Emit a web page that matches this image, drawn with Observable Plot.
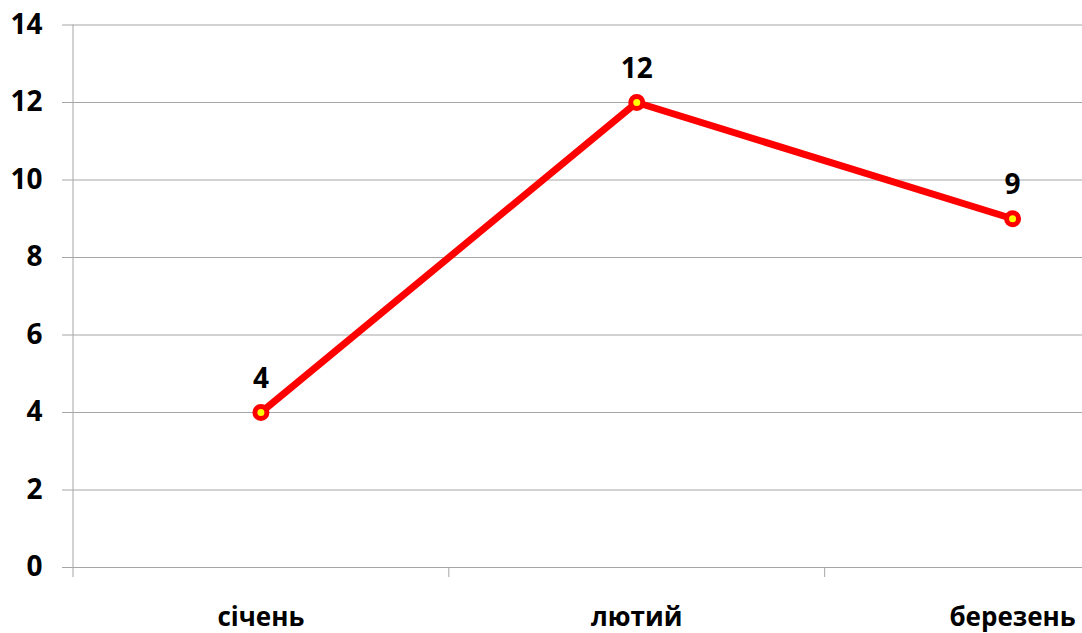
<!DOCTYPE html>
<html>
<head>
<meta charset="utf-8">
<script src="https://cdn.jsdelivr.net/npm/d3@7"></script>
<script src="https://cdn.jsdelivr.net/npm/@observablehq/plot@0.6"></script>
<style>
  html, body { margin: 0; padding: 0; background: #fff; overflow: hidden; }
</style>
</head>
<body>
<div id="chart"></div>
<script>
const months = ["січень", "лютий", "березень"];
const values = [4, 12, 9];
const yTicks = [0, 2, 4, 6, 8, 10, 12, 14];
const xBandEdges = [0, 1, 2, 3];

const data = months.map((m, i) => ({month: m, pos: i + 0.5, value: values[i]}));

const FONT = "'Open Sans', 'DejaVu Sans', sans-serif";

const chart = Plot.plot({
  width: 1200,
  height: 633,
  marginLeft: 72.5,
  marginRight: 0,
  marginTop: 24.5,
  marginBottom: 66,
  style: {maxWidth: "none", background: "#fff", fontFamily: FONT, overflow: "hidden"},
  x: {type: "linear", domain: [0, 3], axis: null},
  y: {type: "linear", domain: [0, 14], axis: null},
  marks: [
    Plot.ruleY(yTicks, {y: d => d, stroke: "#a6a6a6", strokeWidth: 1, insetLeft: -10.5}),
    Plot.ruleX([0], {x: d => d, y1: 0, y2: 14, stroke: "#a6a6a6", strokeWidth: 1}),
    Plot.ruleX(xBandEdges, {x: d => d, y1: 0, y2: 0, stroke: "#a6a6a6", strokeWidth: 1, insetBottom: -10}),
    Plot.text(yTicks, {x: 0, y: d => d, text: d => String(d), dx: -30.5, textAnchor: "end", lineAnchor: "middle", fontSize: 28, fontWeight: 700, fill: "#000", fontFamily: FONT}),
    Plot.text(data, {x: "pos", y: 0, text: "month", dy: 58, lineAnchor: "bottom", fontSize: 26, fontWeight: 700, fill: "#000", fontFamily: FONT}),
    Plot.line(data, {x: "pos", y: "value", stroke: "#ff0000", strokeWidth: 7}),
    Plot.dot(data, {x: "pos", y: "value", r: 6, fill: "#ffff00", stroke: "#ff0000", strokeWidth: 5}),
    Plot.text(data, {x: "pos", y: "value", text: d => String(d.value), dy: -25, lineAnchor: "bottom", fontSize: 28, fontWeight: 700, fill: "#000", fontFamily: FONT})
  ]
});
document.getElementById("chart").appendChild(chart);
</script>
</body>
</html>
